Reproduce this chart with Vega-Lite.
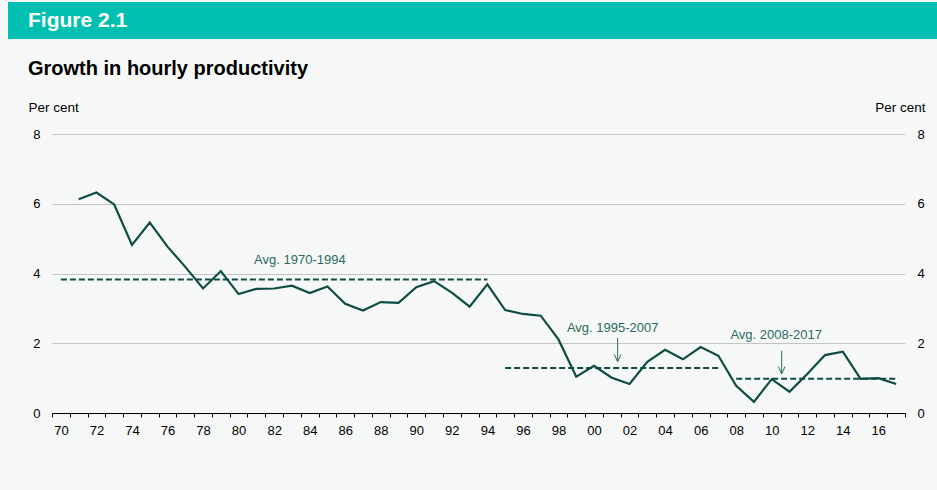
{
  "$schema": "https://vega.github.io/schema/vega-lite/v6.json",
  "background": "#f6f8f7",
  "padding": {"left": 8, "top": 2, "right": 0, "bottom": 59},
  "spacing": 20,
  "config": {
    "font": "Liberation Sans",
    "view": {"stroke": null}
  },
  "datasets": {
    "productivity": [
      {"year": 1971, "growth": 6.13}, {"year": 1972, "growth": 6.32}, {"year": 1973, "growth": 5.98},
      {"year": 1974, "growth": 4.82}, {"year": 1975, "growth": 5.46}, {"year": 1976, "growth": 4.77},
      {"year": 1977, "growth": 4.19}, {"year": 1978, "growth": 3.57}, {"year": 1979, "growth": 4.07},
      {"year": 1980, "growth": 3.41}, {"year": 1981, "growth": 3.56}, {"year": 1982, "growth": 3.57},
      {"year": 1983, "growth": 3.65}, {"year": 1984, "growth": 3.44}, {"year": 1985, "growth": 3.63},
      {"year": 1986, "growth": 3.13}, {"year": 1987, "growth": 2.94}, {"year": 1988, "growth": 3.18},
      {"year": 1989, "growth": 3.16}, {"year": 1990, "growth": 3.61}, {"year": 1991, "growth": 3.78},
      {"year": 1992, "growth": 3.45}, {"year": 1993, "growth": 3.05}, {"year": 1994, "growth": 3.69},
      {"year": 1995, "growth": 2.95}, {"year": 1996, "growth": 2.84}, {"year": 1997, "growth": 2.79},
      {"year": 1998, "growth": 2.11}, {"year": 1999, "growth": 1.04}, {"year": 2000, "growth": 1.35},
      {"year": 2001, "growth": 1.01}, {"year": 2002, "growth": 0.83}, {"year": 2003, "growth": 1.47},
      {"year": 2004, "growth": 1.81}, {"year": 2005, "growth": 1.54}, {"year": 2006, "growth": 1.89},
      {"year": 2007, "growth": 1.64}, {"year": 2008, "growth": 0.78}, {"year": 2009, "growth": 0.32},
      {"year": 2010, "growth": 0.97}, {"year": 2011, "growth": 0.61}, {"year": 2012, "growth": 1.12},
      {"year": 2013, "growth": 1.66}, {"year": 2014, "growth": 1.76}, {"year": 2015, "growth": 0.98},
      {"year": 2016, "growth": 1.0}, {"year": 2017, "growth": 0.83}
    ],
    "averages": [
      {"start": 1970, "end": 1994, "growth": 3.83},
      {"start": 1995, "end": 2007, "growth": 1.29},
      {"start": 2008, "end": 2017, "growth": 0.98}
    ],
    "notes": [
      {"label": "Avg. 1970-1994", "year": 1983.45, "growth": 4.27},
      {"label": "Avg. 1995-2007", "year": 2001.05, "growth": 2.32},
      {"label": "Avg. 2008-2017", "year": 2010.25, "growth": 2.12}
    ],
    "arrows": [
      {"year": 2001.33, "top": 2.15, "tip": 1.47},
      {"year": 2010.56, "top": 1.78, "tip": 1.12}
    ]
  },
  "vconcat": [
    {
      "width": 929,
      "height": 37,
      "view": {"fill": "#00bfb0", "stroke": null},
      "data": {"values": [{"label": "Figure 2.1"}]},
      "mark": {
        "type": "text",
        "align": "left",
        "baseline": "middle",
        "dx": 20,
        "fontSize": 21,
        "fontWeight": "bold",
        "color": "#ffffff"
      },
      "encoding": {
        "x": {"datum": 0, "type": "quantitative", "scale": {"domain": [0, 1]}, "axis": null},
        "text": {"field": "label"}
      }
    },
    {
      "width": 897,
      "height": 279,
      "title": {
        "text": "Growth in hourly productivity",
        "anchor": "start",
        "frame": "group",
        "dx": 20,
        "offset": 21,
        "fontSize": 20,
        "fontWeight": "bold",
        "color": "#000000"
      },
      "layer": [
        {
          "data": {"name": "productivity"},
          "mark": {"type": "line", "color": "#0c4c44", "strokeWidth": 2.2},
          "encoding": {
            "x": {
              "field": "year",
              "type": "quantitative",
              "scale": {"domain": [1969.5, 2017.5], "range": [44, 897], "nice": false, "zero": false},
              "axis": {
                "orient": "bottom",
                "values": [1969.5, 1970.5, 1971.5, 1972.5, 1973.5, 1974.5, 1975.5, 1976.5, 1977.5, 1978.5, 1979.5, 1980.5, 1981.5, 1982.5, 1983.5, 1984.5, 1985.5, 1986.5, 1987.5, 1988.5, 1989.5, 1990.5, 1991.5, 1992.5, 1993.5, 1994.5, 1995.5, 1996.5, 1997.5, 1998.5, 1999.5, 2000.5, 2001.5, 2002.5, 2003.5, 2004.5, 2005.5, 2006.5, 2007.5, 2008.5, 2009.5, 2010.5, 2011.5, 2012.5, 2013.5, 2014.5, 2015.5, 2016.5, 2017.5],
                "labels": false,
                "ticks": true,
                "tickSize": 4,
                "tickColor": "#000000",
                "domain": true,
                "domainColor": "#000000",
                "grid": false,
                "title": null
              }
            },
            "y": {
              "field": "growth",
              "type": "quantitative",
              "scale": {"domain": [0, 8], "nice": false},
              "axis": {
                "orient": "left",
                "offset": -44,
                "values": [0, 2, 4, 6, 8],
                "grid": true,
                "gridColor": "#c4c4c4",
                "gridWidth": 1,
                "domain": false,
                "ticks": false,
                "labelPadding": 12,
                "labelFontSize": 13,
                "labelColor": "#000000",
                "title": "Per cent",
                "titleAngle": 0,
                "titleAlign": "left",
                "titleBaseline": "alphabetic",
                "titleX": -24,
                "titleY": -23,
                "titleFontSize": 13.5,
                "titleFontWeight": "normal",
                "titleColor": "#000000"
              }
            }
          }
        },
        {
          "data": {"name": "averages"},
          "mark": {"type": "rule", "color": "#0c4c44", "strokeWidth": 2, "strokeDash": [6, 3]},
          "encoding": {
            "x": {
              "field": "start",
              "type": "quantitative",
              "axis": {
                "orient": "bottom",
                "values": [1970, 1972, 1974, 1976, 1978, 1980, 1982, 1984, 1986, 1988, 1990, 1992, 1994, 1996, 1998, 2000, 2002, 2004, 2006, 2008, 2010, 2012, 2014, 2016],
                "labelExpr": "substring(toString(datum.value), 2, 4)",
                "ticks": false,
                "tickSize": 4,
                "domain": false,
                "grid": false,
                "labelPadding": 11,
                "labelFontSize": 13,
                "labelColor": "#000000",
                "labelFlush": false,
                "labelOverlap": false,
                "title": null
              }
            },
            "x2": {"field": "end"},
            "y": {
              "field": "growth",
              "type": "quantitative",
              "axis": {
                "orient": "right",
                "values": [0, 2, 4, 6, 8],
                "grid": false,
                "domain": false,
                "ticks": false,
                "labelPadding": 12,
                "labelFontSize": 13,
                "labelColor": "#000000",
                "title": "Per cent",
                "titleAngle": 0,
                "titleAlign": "right",
                "titleBaseline": "alphabetic",
                "titleX": 20,
                "titleY": -23,
                "titleFontSize": 13.5,
                "titleFontWeight": "normal",
                "titleColor": "#000000"
              }
            }
          }
        },
        {
          "data": {"name": "notes"},
          "mark": {"type": "text", "align": "center", "baseline": "alphabetic", "fontSize": 13, "color": "#2b6a60"},
          "encoding": {
            "x": {"field": "year", "type": "quantitative", "axis": null},
            "y": {"field": "growth", "type": "quantitative", "axis": null},
            "text": {"field": "label"}
          }
        },
        {
          "data": {"name": "arrows"},
          "mark": {"type": "rule", "color": "#2b6a60", "strokeWidth": 1},
          "encoding": {
            "x": {"field": "year", "type": "quantitative", "axis": null},
            "y": {"field": "top", "type": "quantitative", "axis": null},
            "y2": {"field": "tip"}
          }
        },
        {
          "data": {"name": "arrows"},
          "mark": {
            "type": "point",
            "shape": "M-1,-2.2L0,0L1,-2.2",
            "size": 45,
            "filled": false,
            "stroke": "#2b6a60",
            "strokeWidth": 1,
            "opacity": 1
          },
          "encoding": {
            "x": {"field": "year", "type": "quantitative", "axis": null},
            "y": {"field": "tip", "type": "quantitative", "axis": null}
          }
        }
      ],
      "resolve": {"axis": {"x": "independent", "y": "independent"}}
    }
  ]
}
